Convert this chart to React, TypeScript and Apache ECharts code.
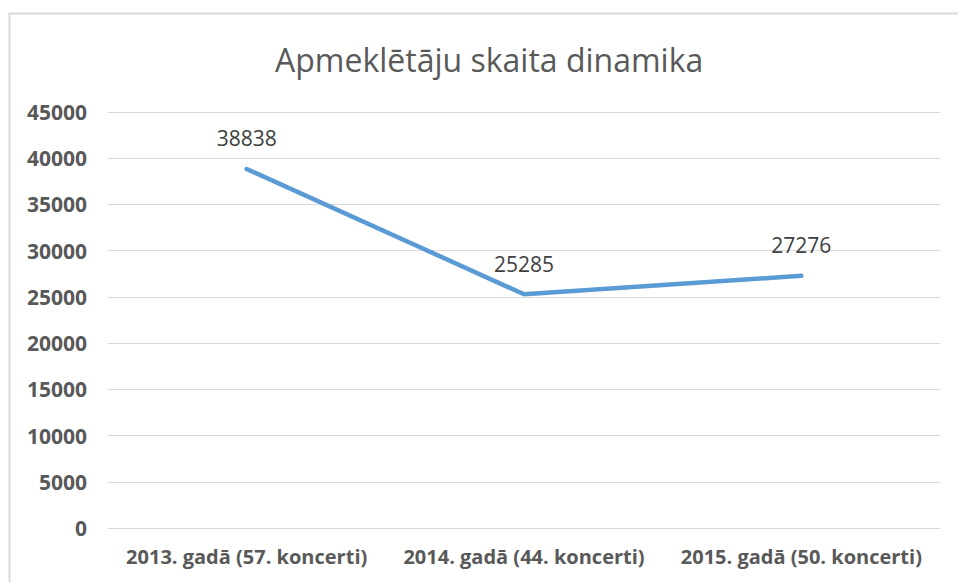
import React, { useEffect, useRef } from "react";
import * as echarts from "echarts";

const categories = [
  "2013. gadā (57. koncerti)",
  "2014. gadā (44. koncerti)",
  "2015. gadā (50. koncerti)",
];
const visitors = [38838, 25285, 27276];
const titleText = "Apmeklētāju skaita dinamika";

export default function App() {
  const ref = useRef<HTMLDivElement>(null);
  useEffect(() => {
    if (!ref.current) return;
    const chart = echarts.init(ref.current, null, { renderer: "svg" });
    const font = "'Open Sans', sans-serif";
    chart.setOption({
      animation: false,
      backgroundColor: "#ffffff",
      title: {
        text: titleText,
        left: 270,
        top: 38,
        textStyle: { fontFamily: font, fontSize: 32, fontWeight: "normal", color: "#595959" },
      },
      graphic: [
        {
          type: "rect",
          shape: { x: 9.5, y: 13.5, width: 1000, height: 1000 },
          style: { fill: "none", stroke: "#d9d9d9", lineWidth: 2 },
          silent: true,
        },
      ],
      grid: { left: 108, right: 18, top: 112, bottom: 54, containLabel: false },
      xAxis: {
        type: "category",
        data: categories,
        boundaryGap: true,
        axisLine: { show: false },
        axisTick: { show: false },
        axisLabel: {
          interval: 0,
          margin: 18,
          fontFamily: font,
          fontSize: 20,
          fontWeight: "bold",
          color: "#595959",
        },
      },
      yAxis: {
        type: "value",
        min: 0,
        max: 45000,
        interval: 5000,
        axisLine: { show: false },
        axisTick: { show: false },
        axisLabel: {
          margin: 21,
          fontFamily: font,
          fontSize: 21,
          fontWeight: "bold",
          color: "#595959",
          formatter: (v: number) => String(v),
        },
        splitLine: { lineStyle: { color: "#d9d9d9", width: 1 } },
      },
      series: [
        {
          type: "line",
          data: visitors,
          showSymbol: true,
          symbol: "circle",
          symbolSize: 2,
          itemStyle: { color: "rgba(91,155,213,0)" },
          lineStyle: { color: "#5b9bd5", width: 4.5, cap: "round" },
          label: {
            show: true,
            position: "top",
            distance: 19,
            fontFamily: font,
            fontSize: 21,
            color: "#404040",
          },
        },
      ],
    });
    return () => chart.dispose();
  }, []);
  return (
    <div
      ref={ref}
      style={{ position: "fixed", left: 0, top: 0, width: 958, height: 582 }}
    />
  );
}
